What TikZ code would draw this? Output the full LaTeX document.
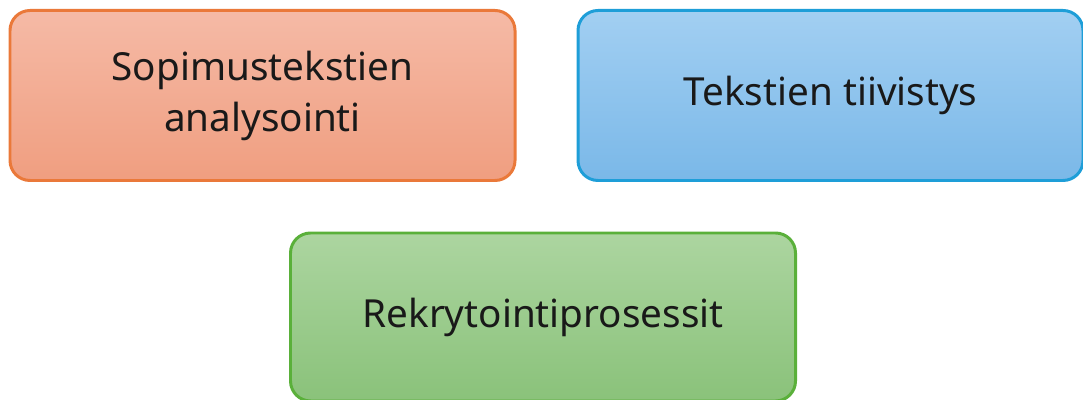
\documentclass[tikz,border=0pt]{standalone}
\usepackage{fontspec}
\setmainfont{Noto Sans}
\definecolor{orangeline}{RGB}{234,121,58}
\definecolor{orangetop}{RGB}{245,186,166}
\definecolor{orangebot}{RGB}{240,158,128}
\definecolor{blueline}{RGB}{30,158,216}
\definecolor{bluetop}{RGB}{162,207,242}
\definecolor{bluebot}{RGB}{122,184,232}
\definecolor{greenline}{RGB}{90,176,58}
\definecolor{greentop}{RGB}{172,213,160}
\definecolor{greenbot}{RGB}{138,194,122}
\tikzset{
    every node/.style={draw,line width=1.7pt},
    box/.style={rectangle, rounded corners=0.4cm, minimum width=10.1cm,
        minimum height=3.4cm, align=center, font=\fontsize{22}{29}\selectfont,
        text=black!90},
    sopimus/.style={draw=orangeline, top color=orangetop, bottom color=orangebot},
    tiivis/.style={draw=blueline, top color=bluetop, bottom color=bluebot},
    rekry/.style={draw=greenline, top color=greentop, bottom color=greenbot}
}
\begin{document}
\begin{tikzpicture}
\useasboundingbox (0,0) rectangle (21.66,8);
\node[box,sopimus] at (5.25,6.09) (analyysi) {Sopimustekstien\\analysointi};
\node[box,tiivis] at (16.61,6.09) (tiivistys) {Tekstien tiivistys};
\node[box,rekry,minimum height=3.36cm] at (10.86,1.66) (rekrytointi) {Rekrytointiprosessit};
\end{tikzpicture}
\end{document}
